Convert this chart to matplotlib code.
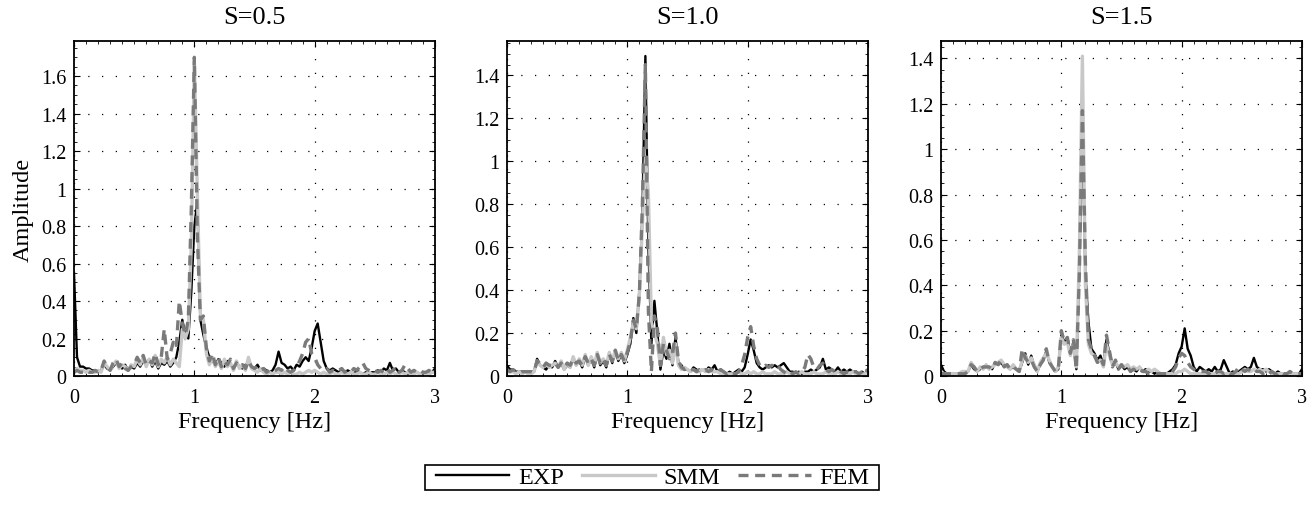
import numpy as np
import matplotlib
matplotlib.use('Agg')
import matplotlib.pyplot as plt
from matplotlib.patches import Rectangle
from matplotlib.ticker import MultipleLocator, FuncFormatter

plt.rcParams['font.family'] = ['Liberation Serif', 'DejaVu Serif']

# frequency grid, 0.025 Hz spacing
freq = np.linspace(0, 3, 121)

titles = ['S=0.5', 'S=1.0', 'S=1.5']
series_names = ['EXP', 'SMM', 'FEM']

# S=0.5
exp_s05 = [0.55, 0.10, 0.05, 0.05, 0.04, 0.04, 0.03, 0.03, 0.02, 0.03,
           0.06, 0.04, 0.03, 0.05, 0.07, 0.05, 0.04, 0.06, 0.03, 0.05,
           0.04, 0.07, 0.05, 0.08, 0.06, 0.09, 0.05, 0.08, 0.04, 0.07,
           0.06, 0.08, 0.05, 0.07, 0.10, 0.18, 0.30, 0.22, 0.20, 0.45,
           0.80, 0.93, 0.30, 0.22, 0.15, 0.10, 0.08, 0.06, 0.09, 0.07,
           0.05, 0.08, 0.06, 0.04, 0.07, 0.05, 0.04, 0.06, 0.07, 0.05,
           0.04, 0.06, 0.03, 0.04, 0.03, 0.02, 0.03, 0.06, 0.13, 0.07,
           0.06, 0.04, 0.05, 0.03, 0.06, 0.05, 0.08, 0.10, 0.08, 0.15,
           0.24, 0.28, 0.18, 0.08, 0.04, 0.03, 0.04, 0.03, 0.02, 0.03,
           0.02, 0.03, 0.02, 0.01, 0.03, 0.02, 0.01, 0.02, 0.01, 0.02,
           0.02, 0.03, 0.02, 0.04, 0.03, 0.07, 0.03, 0.04, 0.02, 0.03,
           0.02, 0.01, 0.02, 0.01, 0.02, 0.01, 0.01, 0.02, 0.01, 0.02, 0.04]
smm_s05 = [0.03, 0.04, 0.03, 0.03, 0.02, 0.03, 0.02, 0.02, 0.03, 0.02,
           0.07, 0.05, 0.03, 0.06, 0.08, 0.04, 0.06, 0.05, 0.03, 0.06,
           0.05, 0.09, 0.06, 0.10, 0.05, 0.09, 0.06, 0.11, 0.05, 0.09,
           0.07, 0.10, 0.06, 0.09, 0.07, 0.05, 0.25, 0.20, 0.25, 0.70,
           1.68, 0.98, 0.33, 0.30, 0.12, 0.06, 0.10, 0.05, 0.08, 0.04,
           0.09, 0.05, 0.07, 0.03, 0.08, 0.04, 0.06, 0.03, 0.10, 0.04,
           0.03, 0.02, 0.04, 0.02, 0.01, 0.02, 0.01, 0.02, 0.02, 0.01,
           0.02, 0.01, 0.02, 0.01, 0.01, 0.02, 0.01, 0.02, 0.03, 0.02,
           0.03, 0.02, 0.01, 0.02, 0.01, 0.01, 0.02, 0.01, 0.01, 0.02,
           0.01, 0.01, 0.02, 0.01, 0.01, 0.02, 0.01, 0.01, 0.02, 0.01,
           0.01, 0.02, 0.01, 0.01, 0.02, 0.01, 0.02, 0.01, 0.01, 0.02,
           0.01, 0.02, 0.01, 0.01, 0.02, 0.01, 0.02, 0.01, 0.01, 0.02, 0.02]
fem_s05 = [0.02, 0.03, 0.02, 0.02, 0.03, 0.02, 0.02, 0.03, 0.02, 0.03,
           0.08, 0.05, 0.03, 0.07, 0.09, 0.05, 0.07, 0.04, 0.03, 0.05,
           0.06, 0.10, 0.07, 0.11, 0.06, 0.08, 0.07, 0.12, 0.06, 0.10,
           0.25, 0.09, 0.12, 0.18, 0.15, 0.40, 0.28, 0.22, 0.30, 0.90,
           1.70, 0.75, 0.30, 0.32, 0.15, 0.08, 0.12, 0.06, 0.10, 0.05,
           0.08, 0.06, 0.09, 0.04, 0.07, 0.05, 0.06, 0.04, 0.08, 0.05,
           0.04, 0.05, 0.03, 0.04, 0.02, 0.03, 0.02, 0.03, 0.04, 0.03,
           0.05, 0.03, 0.02, 0.03, 0.05, 0.08, 0.12, 0.18, 0.20, 0.12,
           0.10, 0.06, 0.04, 0.03, 0.04, 0.02, 0.03, 0.02, 0.03, 0.04,
           0.02, 0.03, 0.02, 0.04, 0.03, 0.05, 0.07, 0.04, 0.03, 0.02,
           0.03, 0.02, 0.03, 0.02, 0.04, 0.02, 0.03, 0.05, 0.02, 0.03,
           0.06, 0.04, 0.02, 0.03, 0.02, 0.03, 0.02, 0.02, 0.03, 0.02, 0.02]

# S=1.0
exp_s10 = [0.05, 0.03, 0.03, 0.02, 0.02, 0.02, 0.02, 0.02, 0.02, 0.02,
           0.08, 0.05, 0.04, 0.03, 0.05, 0.04, 0.07, 0.04, 0.06, 0.03,
           0.05, 0.04, 0.08, 0.05, 0.07, 0.04, 0.09, 0.05, 0.08, 0.04,
           0.10, 0.05, 0.07, 0.04, 0.10, 0.06, 0.12, 0.07, 0.10, 0.06,
           0.10, 0.15, 0.27, 0.20, 0.40, 0.75, 1.49, 0.60, 0.15, 0.35,
           0.20, 0.03, 0.12, 0.08, 0.15, 0.05, 0.18, 0.06, 0.05, 0.03,
           0.03, 0.02, 0.04, 0.03, 0.02, 0.03, 0.02, 0.04, 0.03, 0.05,
           0.02, 0.03, 0.02, 0.01, 0.02, 0.01, 0.02, 0.03, 0.02, 0.04,
           0.10, 0.17, 0.12, 0.06, 0.04, 0.03, 0.04, 0.05, 0.04, 0.05,
           0.04, 0.05, 0.06, 0.04, 0.02, 0.02, 0.01, 0.02, 0.01, 0.02,
           0.02, 0.03, 0.02, 0.03, 0.04, 0.08, 0.03, 0.04, 0.03, 0.02,
           0.04, 0.02, 0.03, 0.02, 0.03, 0.02, 0.02, 0.01, 0.02, 0.01, 0.03]
smm_s10 = [0.02, 0.02, 0.02, 0.01, 0.02, 0.01, 0.02, 0.01, 0.01, 0.02,
           0.07, 0.05, 0.04, 0.06, 0.04, 0.05, 0.06, 0.04, 0.07, 0.03,
           0.06, 0.04, 0.09, 0.05, 0.08, 0.05, 0.10, 0.05, 0.09, 0.05,
           0.11, 0.06, 0.08, 0.05, 0.11, 0.07, 0.12, 0.08, 0.11, 0.07,
           0.12, 0.18, 0.25, 0.22, 0.38, 0.70, 1.02, 0.85, 0.25, 0.20,
           0.15, 0.05, 0.18, 0.10, 0.12, 0.06, 0.15, 0.05, 0.03, 0.04,
           0.03, 0.02, 0.03, 0.02, 0.02, 0.03, 0.02, 0.03, 0.02, 0.02,
           0.02, 0.01, 0.01, 0.01, 0.01, 0.01, 0.01, 0.02, 0.01, 0.01,
           0.02, 0.01, 0.02, 0.01, 0.01, 0.02, 0.01, 0.01, 0.01, 0.02,
           0.01, 0.01, 0.01, 0.02, 0.01, 0.01, 0.01, 0.01, 0.02, 0.01,
           0.01, 0.01, 0.02, 0.01, 0.01, 0.01, 0.02, 0.01, 0.01, 0.01,
           0.02, 0.01, 0.01, 0.01, 0.01, 0.02, 0.01, 0.01, 0.01, 0.01, 0.02]
fem_s10 = [0.03, 0.02, 0.03, 0.02, 0.02, 0.02, 0.02, 0.02, 0.02, 0.02,
           0.07, 0.06, 0.04, 0.06, 0.05, 0.05, 0.06, 0.04, 0.06, 0.04,
           0.06, 0.05, 0.08, 0.06, 0.07, 0.05, 0.09, 0.06, 0.08, 0.05,
           0.10, 0.06, 0.08, 0.05, 0.10, 0.07, 0.12, 0.07, 0.10, 0.07,
           0.11, 0.16, 0.26, 0.22, 0.38, 0.80, 1.45, 0.30, 0.02, 0.28,
           0.22, 0.05, 0.15, 0.12, 0.08, 0.10, 0.20, 0.07, 0.04, 0.03,
           0.04, 0.03, 0.03, 0.02, 0.03, 0.02, 0.03, 0.02, 0.03, 0.02,
           0.02, 0.03, 0.02, 0.01, 0.02, 0.01, 0.01, 0.02, 0.05, 0.10,
           0.18, 0.23, 0.14, 0.08, 0.05, 0.04, 0.05, 0.04, 0.05, 0.04,
           0.05, 0.03, 0.02, 0.01, 0.02, 0.01, 0.02, 0.01, 0.02, 0.04,
           0.10, 0.08, 0.04, 0.03, 0.05, 0.06, 0.03, 0.02, 0.03, 0.02,
           0.03, 0.02, 0.01, 0.02, 0.01, 0.02, 0.02, 0.01, 0.02, 0.04, 0.02]

# S=1.5
exp_s15 = [0.05, 0.02, 0.01, 0.01, 0.01, 0.01, 0.01, 0.01, 0.02, 0.02,
           0.05, 0.03, 0.02, 0.03, 0.04, 0.04, 0.04, 0.03, 0.06, 0.05,
           0.06, 0.04, 0.05, 0.03, 0.04, 0.03, 0.02, 0.06, 0.10, 0.05,
           0.09, 0.04, 0.02, 0.05, 0.07, 0.11, 0.06, 0.04, 0.02, 0.03,
           0.18, 0.15, 0.17, 0.10, 0.15, 0.03, 0.50, 1.12, 0.45, 0.24,
           0.12, 0.10, 0.07, 0.09, 0.05, 0.16, 0.10, 0.05, 0.06, 0.03,
           0.05, 0.03, 0.04, 0.02, 0.03, 0.02, 0.04, 0.02, 0.03, 0.02,
           0.02, 0.01, 0.02, 0.01, 0.01, 0.01, 0.02, 0.03, 0.05, 0.10,
           0.13, 0.21, 0.12, 0.09, 0.04, 0.02, 0.04, 0.03, 0.02, 0.03,
           0.02, 0.04, 0.02, 0.03, 0.07, 0.04, 0.01, 0.02, 0.01, 0.02,
           0.03, 0.04, 0.03, 0.04, 0.08, 0.04, 0.03, 0.03, 0.02, 0.03,
           0.02, 0.01, 0.02, 0.01, 0.01, 0.01, 0.01, 0.01, 0.01, 0.01, 0.03]
smm_s15 = [0.02, 0.01, 0.01, 0.01, 0.01, 0.01, 0.01, 0.02, 0.02, 0.02,
           0.06, 0.04, 0.02, 0.04, 0.03, 0.05, 0.03, 0.04, 0.05, 0.06,
           0.07, 0.05, 0.04, 0.03, 0.05, 0.03, 0.02, 0.07, 0.09, 0.06,
           0.08, 0.05, 0.02, 0.06, 0.08, 0.10, 0.07, 0.04, 0.02, 0.04,
           0.17, 0.14, 0.15, 0.09, 0.14, 0.04, 0.55, 1.41, 0.40, 0.14,
           0.10, 0.09, 0.06, 0.07, 0.04, 0.14, 0.09, 0.05, 0.06, 0.04,
           0.05, 0.04, 0.05, 0.03, 0.04, 0.03, 0.04, 0.02, 0.02, 0.03,
           0.02, 0.03, 0.02, 0.01, 0.01, 0.01, 0.01, 0.01, 0.01, 0.02,
           0.02, 0.03, 0.02, 0.01, 0.01, 0.01, 0.01, 0.01, 0.01, 0.01,
           0.01, 0.01, 0.01, 0.01, 0.01, 0.01, 0.01, 0.01, 0.01, 0.01,
           0.02, 0.03, 0.02, 0.02, 0.03, 0.02, 0.03, 0.02, 0.03, 0.02,
           0.01, 0.01, 0.01, 0.01, 0.01, 0.01, 0.01, 0.01, 0.01, 0.01, 0.01]
fem_s15 = [0.01, 0.01, 0.01, 0.01, 0.01, 0.01, 0.01, 0.01, 0.01, 0.02,
           0.05, 0.04, 0.02, 0.03, 0.04, 0.04, 0.04, 0.03, 0.06, 0.05,
           0.07, 0.04, 0.05, 0.03, 0.04, 0.03, 0.02, 0.12, 0.08, 0.06,
           0.07, 0.04, 0.02, 0.05, 0.07, 0.12, 0.06, 0.04, 0.02, 0.03,
           0.20, 0.15, 0.17, 0.10, 0.16, 0.03, 0.45, 1.17, 0.50, 0.16,
           0.12, 0.09, 0.06, 0.08, 0.05, 0.18, 0.11, 0.04, 0.07, 0.03,
           0.05, 0.03, 0.04, 0.02, 0.03, 0.02, 0.03, 0.02, 0.02, 0.01,
           0.01, 0.01, 0.01, 0.01, 0.01, 0.01, 0.01, 0.02, 0.04, 0.08,
           0.10, 0.09, 0.06, 0.04, 0.03, 0.02, 0.02, 0.02, 0.02, 0.01,
           0.02, 0.01, 0.02, 0.02, 0.01, 0.02, 0.01, 0.01, 0.02, 0.04,
           0.03, 0.02, 0.03, 0.02, 0.03, 0.02, 0.02, 0.01, 0.02, 0.01,
           0.02, 0.01, 0.01, 0.02, 0.01, 0.01, 0.02, 0.01, 0.01, 0.01, 0.01]

panels = [(exp_s05, smm_s05, fem_s05),
          (exp_s10, smm_s10, fem_s10),
          (exp_s15, smm_s15, fem_s15)]
ymax = [1.787, 1.56, 1.477]

fig = plt.figure(figsize=(13.14, 5.10), dpi=100)
lefts = [74 / 1314, 507 / 1314, 941 / 1314]
fmt = FuncFormatter(lambda v, p: '%g' % round(v, 3))

for k, (exp, smm, fem) in enumerate(panels):
    ax = fig.add_axes([lefts[k], 1 - 377 / 510, 361 / 1314, 335 / 510])
    ax.plot(freq, exp, color='black', lw=1.7, label='EXP')
    ax.plot(freq, smm, color='#c8c8c8', lw=2.4, label='SMM')
    ax.plot(freq, fem, color='#7a7a7a', lw=2.4, ls=(0, (3, 2)), label='FEM')
    ax.set_xlim(0, 3)
    ax.set_ylim(0, ymax[k])
    ax.xaxis.set_major_locator(MultipleLocator(1))
    ax.xaxis.set_minor_locator(MultipleLocator(0.1))
    ax.yaxis.set_major_locator(MultipleLocator(0.2))
    ax.yaxis.set_minor_locator(MultipleLocator(0.05))
    ax.xaxis.set_major_formatter(fmt)
    ax.yaxis.set_major_formatter(fmt)
    ax.tick_params(which='both', direction='in', top=True, right=True, labelsize=14.5)
    ax.tick_params(axis='x', which='major', pad=8.5)
    ax.tick_params(axis='y', which='major', pad=5.5)
    ax.tick_params(which='major', length=4)
    ax.tick_params(which='minor', length=2)
    ax.grid(True, which='major', color='black', ls=(0, (1, 10)), lw=0.9)
    for sp in ax.spines.values():
        sp.set_linewidth(1.3)
    ax.set_title(titles[k], fontsize=19, pad=13)
    ax.set_xlabel('Frequency [Hz]', fontsize=17.5, labelpad=3)
    if k == 0:
        ax.set_ylabel('Amplitude', fontsize=17.5, labelpad=5)

handles, labels = ax.get_legend_handles_labels()
leg = fig.legend(handles, labels, loc='center', bbox_to_anchor=(0.497, 0.062),
                 ncol=3, fontsize=17.5, frameon=False,
                 handlelength=3, handletextpad=0.35, columnspacing=0.75,
                 borderpad=0.1, borderaxespad=0)
# legend box
fig.patches.append(Rectangle((425 / 1314, 1 - 491 / 510), 454 / 1314, 25 / 510,
                             transform=fig.transFigure, fill=False,
                             edgecolor='black', lw=1.2))

fig.savefig('out.png', dpi=100)
